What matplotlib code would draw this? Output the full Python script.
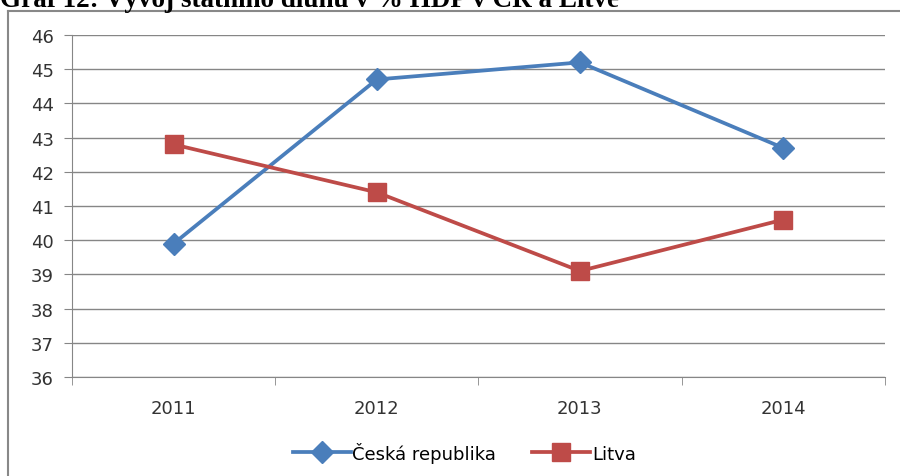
import matplotlib.pyplot as plt
from matplotlib.lines import Line2D

years = ['2011', '2012', '2013', '2014']
cr_values = [39.9, 44.7, 45.2, 42.7]
lt_values = [42.8, 41.4, 39.1, 40.6]
y_ticks = list(range(36, 47))

plt.rcParams['font.family'] = ['DejaVu Sans']

fig = plt.figure(figsize=(9, 4.77), dpi=100)
ax = fig.add_axes([0.08, 0.2075, 0.903, 0.717])

x = range(len(years))
ax.plot(x, cr_values, color='#4A7EBB', lw=2.7, marker='D', markersize=11,
        label='Česká republika')
ax.plot(x, lt_values, color='#BE4B48', lw=2.7, marker='s', markersize=13,
        label='Litva')

ax.set_xlim(-0.5, 3.5)
ax.set_ylim(36, 46)
ax.set_yticks(y_ticks)
ax.set_xticks(list(x))
ax.set_xticklabels(years)
ax.set_xticks([-0.5, 0.5, 1.5, 2.5, 3.5], minor=True)
ax.tick_params(axis='x', which='major', length=0, pad=16, labelsize=13, colors='#333333')
ax.tick_params(axis='x', which='minor', length=6, color='#868686', direction='out')
ax.tick_params(axis='y', length=6, color='#868686', pad=7, labelsize=13, labelcolor='#333333')

ax.grid(axis='y', color='#868686', lw=1)
ax.set_axisbelow(True)
for s in ['top', 'right']:
    ax.spines[s].set_visible(False)
for s in ['left', 'bottom']:
    ax.spines[s].set_color('#868686')

ax.legend(loc='center', bbox_to_anchor=(0.516, 0.05), bbox_transform=fig.transFigure,
          ncol=2, frameon=False, fontsize=13, handlelength=3.2, columnspacing=2,
          handletextpad=0.1)

# outer frame of the chart box, cut at the image edges
fig.add_artist(Line2D([0.009, 0.009], [0, 0.975], color='#888888', lw=1.5,
                      transform=fig.transFigure))
fig.add_artist(Line2D([0.009, 1], [0.975, 0.975], color='#888888', lw=1.5,
                      transform=fig.transFigure))

fig.text(0.0, 1 - 7 / 477, 'Graf 12: Vývoj státního dluhu v % HDP v ČR a Litvě',
         family='Liberation Serif', weight='bold', fontsize=19.5, va='baseline')

fig.savefig('out.png', dpi=100)
